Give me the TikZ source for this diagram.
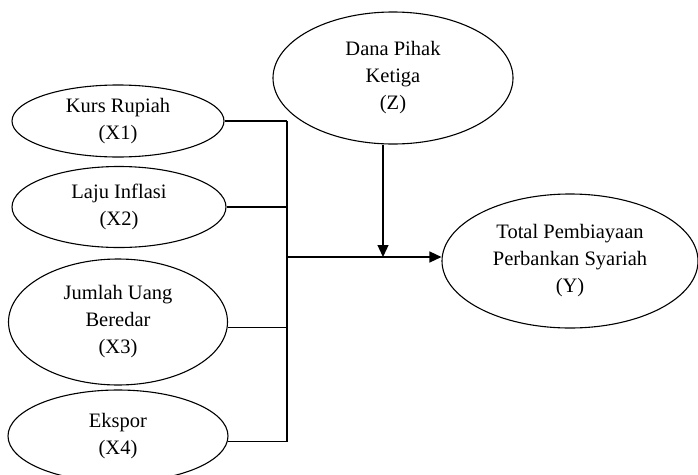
\documentclass[tikz,border=0pt]{standalone}
\usepackage{fontspec}
\setmainfont{Liberation Serif}
\usetikzlibrary{shapes.geometric,arrows.meta}
\begin{document}
\begin{tikzpicture}[x=1pt,y=-1pt,
  var/.style={draw,ellipse,line width=1.1pt,inner sep=0pt,align=center,
    font=\fontsize{20.5}{27}\selectfont},
  conn/.style={line width=1.3pt},
  arr/.style={line width=1.3pt,-{Triangle[length=12pt,width=11pt]}}]
\useasboundingbox (0,0) rectangle (698,474);
\node[var,minimum width=212pt,minimum height=72pt] (x1) at (118,121) {Kurs Rupiah\\(X1)};
\node[var,minimum width=214pt,minimum height=81pt] (x2) at (119,207) {Laju Inflasi\\(X2)};
\node[var,minimum width=219pt,minimum height=126pt] (x3) at (118,322) {Jumlah Uang\\Beredar\\(X3)};
\node[var,minimum width=220pt,minimum height=92pt] (x4) at (118,436) {Ekspor\\(X4)};
\node[var,minimum width=240pt,minimum height=132pt] (z) at (393,78) {Dana Pihak\\Ketiga\\(Z)};
\node[var,minimum width=256pt,minimum height=134pt] (y) at (570,261) {Total Pembiayaan\\Perbankan Syariah\\(Y)};
\coordinate (top) at (287,121);
\coordinate (bot) at (287,442);
\coordinate (j) at (287,257);
\coordinate (k) at (383,257);
\draw[conn] (top) -- (bot);
\draw[conn] (x1.east) -- (x1.east -| top);
\draw[conn] (x2.east) -- (x2.east -| top);
\draw[conn] (x3.-3.6) -- (x3.-3.6 -| top);
\draw[conn] (x4.-3.1) -- (x4.-3.1 -| top);
\draw[arr] (j) -- (j -| y.west);
\draw[arr] (k |- z.south) -- (k);
\end{tikzpicture}
\end{document}
